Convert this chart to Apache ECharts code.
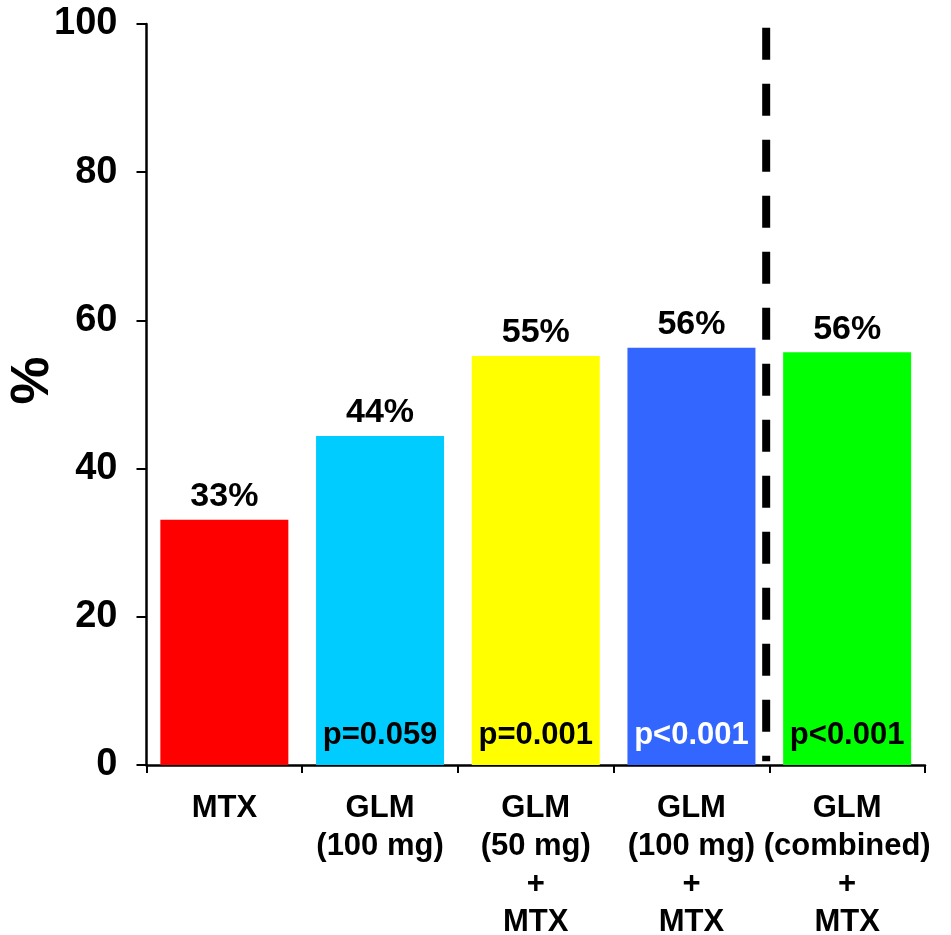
<!DOCTYPE html>
<html>
<head>
<meta charset="utf-8">
<title>Response rates</title>
<script src="https://cdn.jsdelivr.net/npm/echarts@6/dist/echarts.min.js"></script>
<style>
  html, body { margin: 0; padding: 0; background: #ffffff; }
  #chart { width: 951px; height: 935px; }
</style>
</head>
<body>
<div id="chart"></div>
<script>
// Treatment groups (x axis)
const categories = [
  'MTX',
  'GLM\n(100 mg)',
  'GLM\n(50 mg)\n+\nMTX',
  'GLM\n(100 mg)\n+\nMTX',
  'GLM\n(combined)\n+\nMTX'
];
// Percentage of patients responding
const responseRates = [33.1, 44.4, 55.2, 56.3, 55.7];
// p-values versus MTX alone
const pValues = ['', 'p=0.059', 'p=0.001', 'p<0.001', 'p<0.001'];
const barColors = ['#ff0000', '#00ccff', '#ffff00', '#3366ff', '#00ff00'];
const pLabelColors = ['#000000', '#000000', '#000000', '#ffffff', '#000000'];
// Y axis ticks
const yTicks = [0, 20, 40, 60, 80, 100];

// Dashed divider separating the pooled group (position in category units)
const dividerPos = 3.98;
const dividerSpan = [99.5, 0.5];

const FONT = '"Liberation Sans", Arial, sans-serif';

const chart = echarts.init(document.getElementById('chart'), null, { renderer: 'canvas' });

chart.setOption({
  animation: false,
  backgroundColor: '#ffffff',
  grid: { left: 146.5, right: 26, top: 24, bottom: 170, containLabel: false, outerBoundsMode: 'none' },
  xAxis: [
    {
      type: 'category',
      data: categories,
      axisLine: { show: true, lineStyle: { color: '#000', width: 2.5 } },
      axisTick: { show: true, length: 8, lineStyle: { color: '#000', width: 2 } },
      axisLabel: {
        interval: 0,
        margin: 24,
        color: '#000',
        fontFamily: FONT,
        fontWeight: 'bold',
        fontSize: 31,
        lineHeight: 38,
        align: 'center'
      },
      splitLine: { show: false }
    },
    {
      type: 'value',
      min: 0,
      max: categories.length,
      show: false
    }
  ],
  yAxis: {
    type: 'value',
    min: yTicks[0],
    max: yTicks[yTicks.length - 1],
    interval: yTicks[1] - yTicks[0],
    name: '%',
    nameLocation: 'middle',
    nameGap: 86,
    nameMoveOverlap: false,
    nameTextStyle: {
      color: '#000',
      fontFamily: FONT,
      fontWeight: 'bold',
      fontSize: 54,
      padding: [0, 0, 0, 28]
    },
    axisLine: { show: true, lineStyle: { color: '#000', width: 2.5 } },
    axisTick: { show: true, length: 10, lineStyle: { color: '#000', width: 2 } },
    axisLabel: {
      margin: 29,
      color: '#000',
      fontFamily: FONT,
      fontWeight: 'bold',
      fontSize: 38
    },
    splitLine: { show: false }
  },
  series: [
    {
      type: 'bar',
      barWidth: 128,
      data: responseRates.map((v, i) => ({ value: v, itemStyle: { color: barColors[i] } })),
      label: {
        show: true,
        position: 'top',
        distance: 6,
        color: '#000',
        fontFamily: FONT,
        fontWeight: 'bold',
        fontSize: 34,
        formatter: p => Math.round(p.value) + '%'
      }
    },
    {
      // transparent overlay carrying the p-value text at the base of each bar
      type: 'bar',
      barWidth: 128,
      barGap: '-100%',
      silent: true,
      data: responseRates.map((v, i) => ({
        value: v,
        itemStyle: { color: 'rgba(0,0,0,0)' },
        label: { color: pLabelColors[i] }
      })),
      label: {
        show: true,
        position: 'insideBottom',
        distance: 14,
        fontFamily: FONT,
        fontWeight: 'bold',
        fontSize: 31,
        formatter: p => pValues[p.dataIndex]
      }
    },
    {
      type: 'line',
      xAxisIndex: 1,
      symbol: 'none',
      silent: true,
      data: [[dividerPos, dividerSpan[0]], [dividerPos, dividerSpan[1]]],
      lineStyle: { color: '#000', width: 8, type: [32, 24], cap: 'butt' }
    }
  ]
});
</script>
</body>
</html>
